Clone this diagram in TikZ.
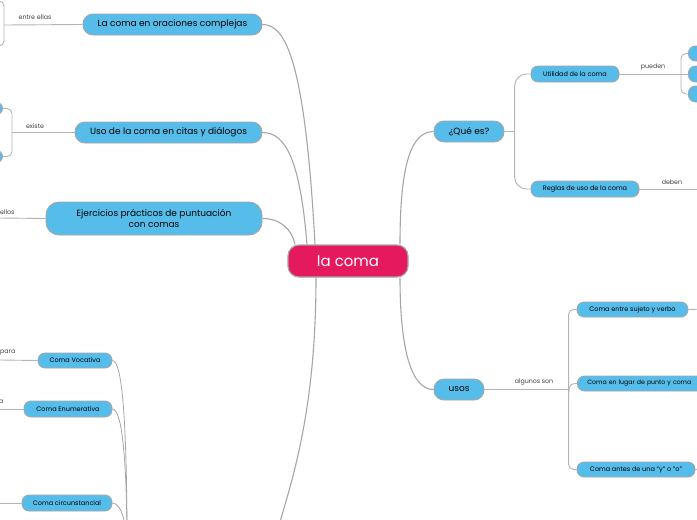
\documentclass[tikz,border=0pt]{standalone}
\usepackage{fontspec}
\setmainfont{Poppins}
\definecolor{blu}{HTML}{56BDEB}
\definecolor{crim}{HTML}{E51A5E}
\definecolor{edgec}{HTML}{A6A6A6}
\definecolor{brk}{HTML}{B4B4B4}
\tikzset{
  big/.style={draw=edgec, line width=0.9pt, fill=blu, rounded corners=10pt, inner sep=0pt,
    font=\fontsize{9}{11}\selectfont, text=black, align=center},
  small/.style={draw=edgec, line width=0.8pt, fill=blu, rounded corners=7pt, inner sep=0pt,
    font=\fontsize{6.5}{7}\selectfont, text=black},
  lbl/.style={font=\fontsize{6.3}{7}\selectfont, text=black!75, inner sep=0pt},
  conn/.style={draw=edgec, line width=1.1pt},
  thinconn/.style={draw=edgec, line width=0.8pt},
  brack/.style={draw=brk, line width=0.9pt, rounded corners=5pt},
}
\begin{document}
\begin{tikzpicture}[x=1pt,y=-1pt]
\useasboundingbox (0,0) rectangle (697,520);
\clip (0,0) rectangle (697,520);
\fill[white] (0,0) rectangle (697,520);

% free-end coordinates
\coordinate (botend) at (276,536);
\coordinate (cp) at (127,548);
\coordinate (tl1) at (-10,1);
\coordinate (tl2) at (-10,46);
\coordinate (ell) at (0,218);
\coordinate (par) at (0,360);
\coordinate (aa) at (0,409);
\coordinate (cir) at (0,503);
\coordinate (deb) at (700,189);
\coordinate (suj) at (705,309);
\coordinate (ant) at (705,469);

% left partial pills
\node[small, minimum width=40pt, minimum height=13pt, anchor=east] (l1) at (3,108.5) {};
\node[small, minimum width=40pt, minimum height=13pt, anchor=east] (l2) at (3,156.5) {};
% right partial pills
\node[small, minimum width=40pt, minimum height=15pt, anchor=west] (r1) at (688,53.5) {};
\node[small, minimum width=40pt, minimum height=16pt, anchor=west] (r2) at (688,74) {};
\node[small, minimum width=40pt, minimum height=16pt, anchor=west] (r3) at (688,94) {};

% main nodes
\node[draw=edgec, line width=1.2pt, fill=crim, rounded corners=11pt, minimum width=120pt,
  minimum height=32pt, inner sep=0pt, text=white, font=\fontsize{15}{17}\selectfont] (root) at (348,261) {la coma};

\node[big, minimum width=179pt, minimum height=21pt] (ora) at (172.5,24.5) {La coma en oraciones complejas};
\node[big, minimum width=187pt, minimum height=21pt] (cit) at (168.5,132.5) {Uso de la coma en citas y diálogos};
\node[big, minimum width=216pt, minimum height=33pt, rounded corners=13pt] (eje) at (154,218.5) {Ejercicios prácticos de puntuación\\con comas};
\node[big, minimum width=70pt, minimum height=21pt] (que) at (469,131.5) {¿Qué es?};
\node[big, minimum width=50pt, minimum height=21pt] (uso) at (459,389.5) {usos};

\node[small, minimum width=88pt, minimum height=16pt] (uti) at (575,74) {Utilidad de la coma};
\node[small, minimum width=108pt, minimum height=16pt] (reg) at (585,189) {Reglas de uso de la coma};
\node[small, minimum width=111pt, minimum height=15pt] (sv) at (632.5,309.5) {Coma entre sujeto y verbo};
\node[small, minimum height=15pt, anchor=west, inner xsep=10pt, text width=110pt, align=left,
  font=\fontsize{6.2}{7}\selectfont] (pc) at (577,383.5) {Coma en lugar de punto y coma};
\node[small, minimum width=118pt, minimum height=15pt] (yo) at (636,469.5) {Coma antes de una "y" o "o"};
\node[small, minimum width=74pt, minimum height=15pt] (voc) at (75,360.5) {Coma Vocativa};
\node[small, minimum width=88pt, minimum height=16pt] (enu) at (68,409) {Coma Enumerativa};
\node[small, minimum width=90pt, minimum height=16pt] (cic) at (67,503) {Coma circunstancial};

% connectors from root
\draw[conn] (ora.east) .. controls +(23,0) and +(-10,-185) .. ([xshift=-33pt]root.north);
\draw[conn] (cit.east) .. controls +(23,0) and +(-7,-85) .. ([xshift=-41pt]root.north);
\draw[conn] (eje.east) .. controls +(18,0) and +(-3,-15) .. ([xshift=-53pt]root.north);
\draw[conn] ([xshift=52pt]root.north) .. controls +(0,-75) and +(-24,0) .. (que.west);
\draw[conn] ([xshift=52pt]root.south) .. controls +(0,73) and +(-22,0) .. (uso.west);
\draw[conn] ([xshift=-32pt]root.south) .. controls +(0,143) and +(12,-45) .. (botend);

% Coma ... children to parent below
\draw[thinconn] (voc.east) .. controls +(10,0) and +(0,-125) .. (cp);
\draw[thinconn] (enu.east) .. controls +(10,0) and +(0,-85) .. (cp);
\draw[thinconn] (cic.east) .. controls +(10,0) and +(0,-20) .. (cp);

% Que es bracket
\draw[brack] (que.east) -- ++(11,0);
\draw[brack, rounded corners=12pt] (uti.west) -- ++(-16,0) |- (reg.west);

% usos bracket
\draw[brack] (uso.east) -- (569,389.5);
\draw[brack] (sv.west) -- ++(-8,0) |- (yo.west);
\draw[brack, rounded corners=0pt] (569,392) .. controls (569,385) and (571,383.5) .. (pc.west);
\node[lbl] (lalg) at (534,382) {algunos son};

% Utilidad -> pueden
\draw[brack] (uti.east) -- (r2.west);
\draw[brack] (r1.west) -- ++(-7,0) |- (r3.west);
\node[lbl] (lpue) at (653,67) {pueden};

% Reglas -> deben
\draw[brack] (reg.east) -- (deb);
\node[lbl] (ldeb) at (672,182) {deben};

% right ends
\draw[brack] (sv.east) -- (suj);
\draw[brack] (yo.east) -- (ant);

% left side
\draw[brack] (ora.west) -- (4,25);
\draw[brack] (tl1) -- (4,1) -- (4,46) -- (tl2);
\node[lbl] (lent) at (35,17) {entre ellas};

\draw[brack] (cit.west) -- (12,132.5);
\draw[brack] (l1.east) -- (12,108.5) -- (12,156.5) -- (l2.east);
\node[lbl] (lexi) at (35,126) {existe};

\draw[brack] (eje.west) -- (ell);
\node[lbl, anchor=west] (lell) at (0,212) {ellos};

\draw[brack] (voc.west) -- (par);
\node[lbl, anchor=west] (lpar) at (0,353) {para};
\draw[brack] (enu.west) -- (aa);
\node[lbl, anchor=east] (la) at (3.5,402) {a};
\draw[brack] (cic.west) -- (cir);
\end{tikzpicture}
\end{document}
